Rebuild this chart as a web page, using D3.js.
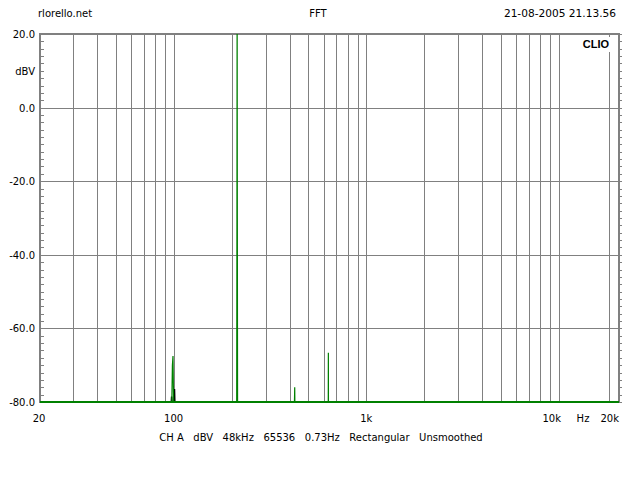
<!DOCTYPE html>
<html><head><meta charset="utf-8">
<script src="https://cdn.jsdelivr.net/npm/d3@7"></script>
<style>
html,body{margin:0;padding:0;background:#fff;}
text{font-family:"DejaVu Sans",sans-serif;font-size:10px;fill:#000;}
</style></head><body>
<svg id="c" width="640" height="480"></svg>
<script>
// ---- data ----
const headerLeft = "rlorello.net";
const headerMid = "FFT";
const headerRight = "21-08-2005 21.13.56";
const yTicks = [20, 0, -20, -40, -60, -80];
const yTickLabels = ["20.0", "0.0", "-20.0", "-40.0", "-60.0", "-80.0"];
const yUnit = "dBV";
const xTickValues = [20, 100, 1000, 10000, 20000];
const xTickLabels = ["20", "100", "1k", "10k", "20k"];
const xUnit = "Hz";
const gridFreqs = [30,40,50,60,70,80,90,100,200,300,400,500,600,700,800,900,1000,2000,3000,4000,5000,6000,7000,8000,9000,10000,18200];
const footer = "CH A   dBV   48kHz   65536   0.73Hz   Rectangular   Unsmoothed";
const brand = "CLIO";
// green trace (Hz, dBV)
const greenFreq = [20, 97.8, 98.5, 99.2, 99.9, 100.6, 212.4, 213.0, 213.5, 214.0, 214.6, 423.5, 424.2, 424.9, 425.6, 426.3, 634.5, 635.2, 635.9, 20000];
const greenDb   = [-80, -80, -70, -67.5, -80, -80, -80, -30, 30, -30, -80, -80, -78, -76, -80, -80, -80, -66.6, -80, -80];
// black (reference) trace
const blackFreq = [20, 97.2, 97.6, 98.0, 100.6, 101.0, 101.4, 20000];
const blackDb   = [-80, -80, -78.5, -80, -80, -76.5, -80, -80];

// ---- chart ----
const svg = d3.select("#c");
const x = d3.scaleLog().domain([20, 20000]).range([39, 617]);
const y = d3.scaleLinear().domain([-80, 20]).range([402, 34]);
const grey = "#808080", green = "#008000";
const xL = 40, xR = 619;

// header
svg.append("text").attr("x", 38).attr("y", 17).text(headerLeft);
svg.append("text").attr("x", 318).attr("y", 17).attr("text-anchor", "middle").text(headerMid);
svg.append("text").attr("x", 616).attr("y", 17).attr("text-anchor", "end").style("font-size", "10.6px").text(headerRight);

// vertical grid
svg.append("g").selectAll("line").data(gridFreqs).join("line")
  .attr("x1", d => Math.round(x(d)) + 0.5).attr("x2", d => Math.round(x(d)) + 0.5)
  .attr("y1", y(20)).attr("y2", y(-80)).attr("stroke", grey).attr("stroke-width", 1);
// horizontal grid
svg.append("g").selectAll("line").data([0, -20, -40, -60]).join("line")
  .attr("x1", xL).attr("x2", xR)
  .attr("y1", d => Math.round(y(d)) + 0.5).attr("y2", d => Math.round(y(d)) + 0.5)
  .attr("stroke", grey).attr("stroke-width", 1);

// minor ticks every 2 dB
const minor = d3.range(-80, 20.1, 2);
svg.append("g").selectAll("line").data(minor).join("line")
  .attr("x1", xL).attr("x2", xL + 4)
  .attr("y1", d => Math.round(y(d)) + 0.5).attr("y2", d => Math.round(y(d)) + 0.5)
  .attr("stroke", grey);
svg.append("g").selectAll("line").data(minor).join("line")
  .attr("x1", xR).attr("x2", xR + 3)
  .attr("y1", d => Math.round(y(d)) + 0.5).attr("y2", d => Math.round(y(d)) + 0.5)
  .attr("stroke", grey);

// frame
svg.append("rect").attr("x", xL).attr("y", y(20)).attr("width", xR - xL).attr("height", y(-80) - y(20))
  .attr("fill", "none").attr("stroke", grey).attr("stroke-width", 2);

// brand label with white background
const bt = svg.append("text").attr("x", 609).attr("y", 48).attr("text-anchor", "end")
  .style("font-weight", "bold").style("font-family", "Liberation Sans, Arial, sans-serif").style("font-size", "11px").text(brand);
const bb = bt.node().getBBox();
svg.insert("rect", "text:last-of-type").attr("x", bb.x - 2).attr("y", bb.y - 1).attr("width", bb.width + 6).attr("height", bb.height + 3).attr("fill", "#fff");

// clip
svg.append("clipPath").attr("id", "clip").append("rect")
  .attr("x", xL).attr("y", y(20)).attr("width", xR - xL).attr("height", y(-80) - y(20) + 2);

const line = d3.line().x(d => x(d[0])).y(d => y(d[1]));
svg.append("path").datum(d3.zip(blackFreq, blackDb)).attr("d", line)
  .attr("fill", "none").attr("stroke", "#000").attr("stroke-width", 1.5).attr("clip-path", "url(#clip)");
svg.append("path").datum(d3.zip(greenFreq, greenDb)).attr("d", line)
  .attr("fill", "none").attr("stroke", green).attr("stroke-width", 1.2).attr("clip-path", "url(#clip)");
// baseline thickness
svg.append("line").attr("x1", xL).attr("x2", xR).attr("y1", y(-80)).attr("y2", y(-80))
  .attr("stroke", green).attr("stroke-width", 2);

// y labels
svg.append("g").selectAll("text").data(yTicks).join("text")
  .attr("x", 35).attr("y", d => y(d) + 4).attr("text-anchor", "end").text((d, i) => yTickLabels[i]);
svg.append("text").attr("x", 35).attr("y", y(10) + 4).attr("text-anchor", "end").text(yUnit);

// x labels
svg.append("g").selectAll("text").data(xTickValues).join("text")
  .attr("x", (d, i) => x(d) + (i >= 3 ? 2 : 0)).attr("y", 422)
  .attr("text-anchor", (d, i) => i >= 3 ? "end" : "middle").text((d, i) => xTickLabels[i]);
svg.append("text").attr("x", 583).attr("y", 422).attr("text-anchor", "middle").text(xUnit);

// footer
svg.append("text").attr("x", 321).attr("y", 441).attr("text-anchor", "middle").style("white-space", "pre").text(footer);
</script>
</body></html>
